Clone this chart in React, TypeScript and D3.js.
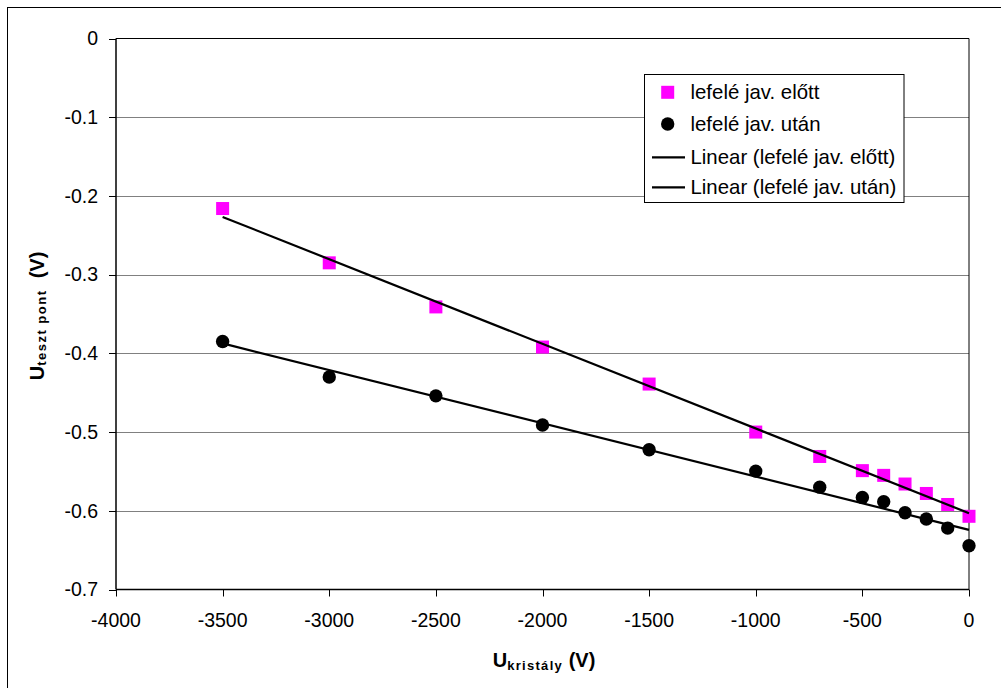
import React from "react";
import * as d3 from "d3";

const xValues = [-3500, -3000, -2500, -2000, -1500, -1000, -700, -500, -400, -300, -200, -100, 0];
const beforeValues = [-0.216, -0.285, -0.341, -0.392, -0.439, -0.500, -0.531, -0.549, -0.555, -0.566, -0.578, -0.592, -0.607];
const afterValues = [-0.385, -0.430, -0.454, -0.491, -0.5225, -0.5496, -0.570, -0.583, -0.5886, -0.6025, -0.6105, -0.622, -0.6445];
const xTicks = [-4000, -3500, -3000, -2500, -2000, -1500, -1000, -500, 0];
const yTicks = [0, -0.1, -0.2, -0.3, -0.4, -0.5, -0.6, -0.7];
const seriesNames = ["lefelé jav. előtt", "lefelé jav. után", "Linear (lefelé jav. előtt)", "Linear (lefelé jav. után)"];

const FONT = "Arial, 'Liberation Sans', sans-serif";

function regress(xs: number[], ys: number[]) {
  const mx = d3.mean(xs)!;
  const my = d3.mean(ys)!;
  let num = 0, den = 0;
  xs.forEach((x, i) => { num += (x - mx) * (ys[i] - my); den += (x - mx) * (x - mx); });
  const b = num / den;
  const a = my - b * mx;
  return (x: number) => a + b * x;
}

export default function App() {
  const left = 116, right = 969, top = 38.5, bottom = 589.5;
  const x = d3.scaleLinear().domain([-4000, 0]).range([left, right]);
  const y = d3.scaleLinear().domain([-0.7, 0]).range([bottom, top]);
  const f1 = regress(xValues, beforeValues);
  const f2 = regress(xValues, afterValues);
  const ext = d3.extent(xValues) as [number, number];
  const l1 = d3.line<number>().x(d => x(d)).y(d => y(f1(d)))(ext)!;
  const l2 = d3.line<number>().x(d => x(d)).y(d => y(f2(d)))(ext)!;
  const sq = 13;
  const lg = { x: 644.5, y: 74.5, w: 259.5, h: 128 };
  const rowY = [92.3, 124, 157.3, 187.3];

  return (
    <svg width={1001} height={688} style={{ position: "absolute", left: 0, top: 0, background: "#fff" }} fontFamily={FONT}>
      <rect x={0} y={0} width={1001} height={688} fill="#fff" />
      <rect x={7.5} y={7.5} width={1010} height={700} fill="none" stroke="#000" strokeWidth={1} />
      {yTicks.map(t => (
        <g key={t}>
          {t !== -0.7 && t !== 0 && (
            <line x1={left} x2={right} y1={Math.round(y(t)) + 0.5} y2={Math.round(y(t)) + 0.5} stroke="#808080" strokeWidth={1} />
          )}
          <line x1={left - 7} x2={left} y1={Math.round(y(t)) + 0.5} y2={Math.round(y(t)) + 0.5} stroke="#000" />
          <text x={98} y={y(t)} dy="0.35em" textAnchor="end" fontSize={19.5}>{t === 0 ? "0" : t.toFixed(1)}</text>
        </g>
      ))}
      <line x1={left} x2={right} y1={top} y2={top} stroke="#000" />
      <line x1={right} x2={right} y1={top} y2={bottom} stroke="#000" />
      <line x1={left} x2={left} y1={top} y2={bottom} stroke="#000" strokeWidth={1.5} />
      <line x1={left} x2={right} y1={bottom} y2={bottom} stroke="#000" strokeWidth={1.5} />
      {xTicks.map(t => (
        <g key={t}>
          <line x1={Math.round(x(t)) + 0.5} x2={Math.round(x(t)) + 0.5} y1={bottom} y2={bottom + 7} stroke="#000" />
          <text x={x(t)} y={627} textAnchor="middle" fontSize={19.5}>{String(t)}</text>
        </g>
      ))}
      {xValues.map((v, i) => (
        <rect key={"s" + i} x={x(v) - sq / 2} y={y(beforeValues[i]) - sq / 2} width={sq} height={sq} fill="#ff00ff" />
      ))}
      {xValues.map((v, i) => (
        <circle key={"c" + i} cx={x(v)} cy={y(afterValues[i])} r={6.7} fill="#000" />
      ))}
      <path d={l1} stroke="#000" strokeWidth={2.2} fill="none" />
      <path d={l2} stroke="#000" strokeWidth={2.2} fill="none" />
      <rect x={lg.x} y={lg.y} width={lg.w} height={lg.h} fill="#fff" stroke="#000" strokeWidth={1} />
      <rect x={667.7 - 6.5} y={rowY[0] - 6.5} width={13} height={13} fill="#ff00ff" />
      <circle cx={667.7} cy={rowY[1]} r={6.7} fill="#000" />
      <line x1={652} x2={685} y1={rowY[2]} y2={rowY[2]} stroke="#000" strokeWidth={2.2} />
      <line x1={652} x2={685} y1={rowY[3]} y2={rowY[3]} stroke="#000" strokeWidth={2.2} />
      {seriesNames.map((n, i) => (
        <text key={n} x={690.5} y={rowY[i]} dy="0.35em" fontSize={20.4}>{n}</text>
      ))}
      <text x={544} y={667} textAnchor="middle" fontWeight="bold" fontSize={20}>
        U<tspan fontSize={13} dy={3} letterSpacing={1.3}>kristály</tspan><tspan dy={-3} fontSize={20}> (V)</tspan>
      </text>
      <text transform="translate(44,316) rotate(-90)" textAnchor="middle" fontWeight="bold" fontSize={20}>
        U<tspan fontSize={13} dy={2} letterSpacing={1.5}>teszt pont</tspan><tspan dy={-2} fontSize={20} xmlSpace="preserve">{"  (V)"}</tspan>
      </text>
    </svg>
  );
}
